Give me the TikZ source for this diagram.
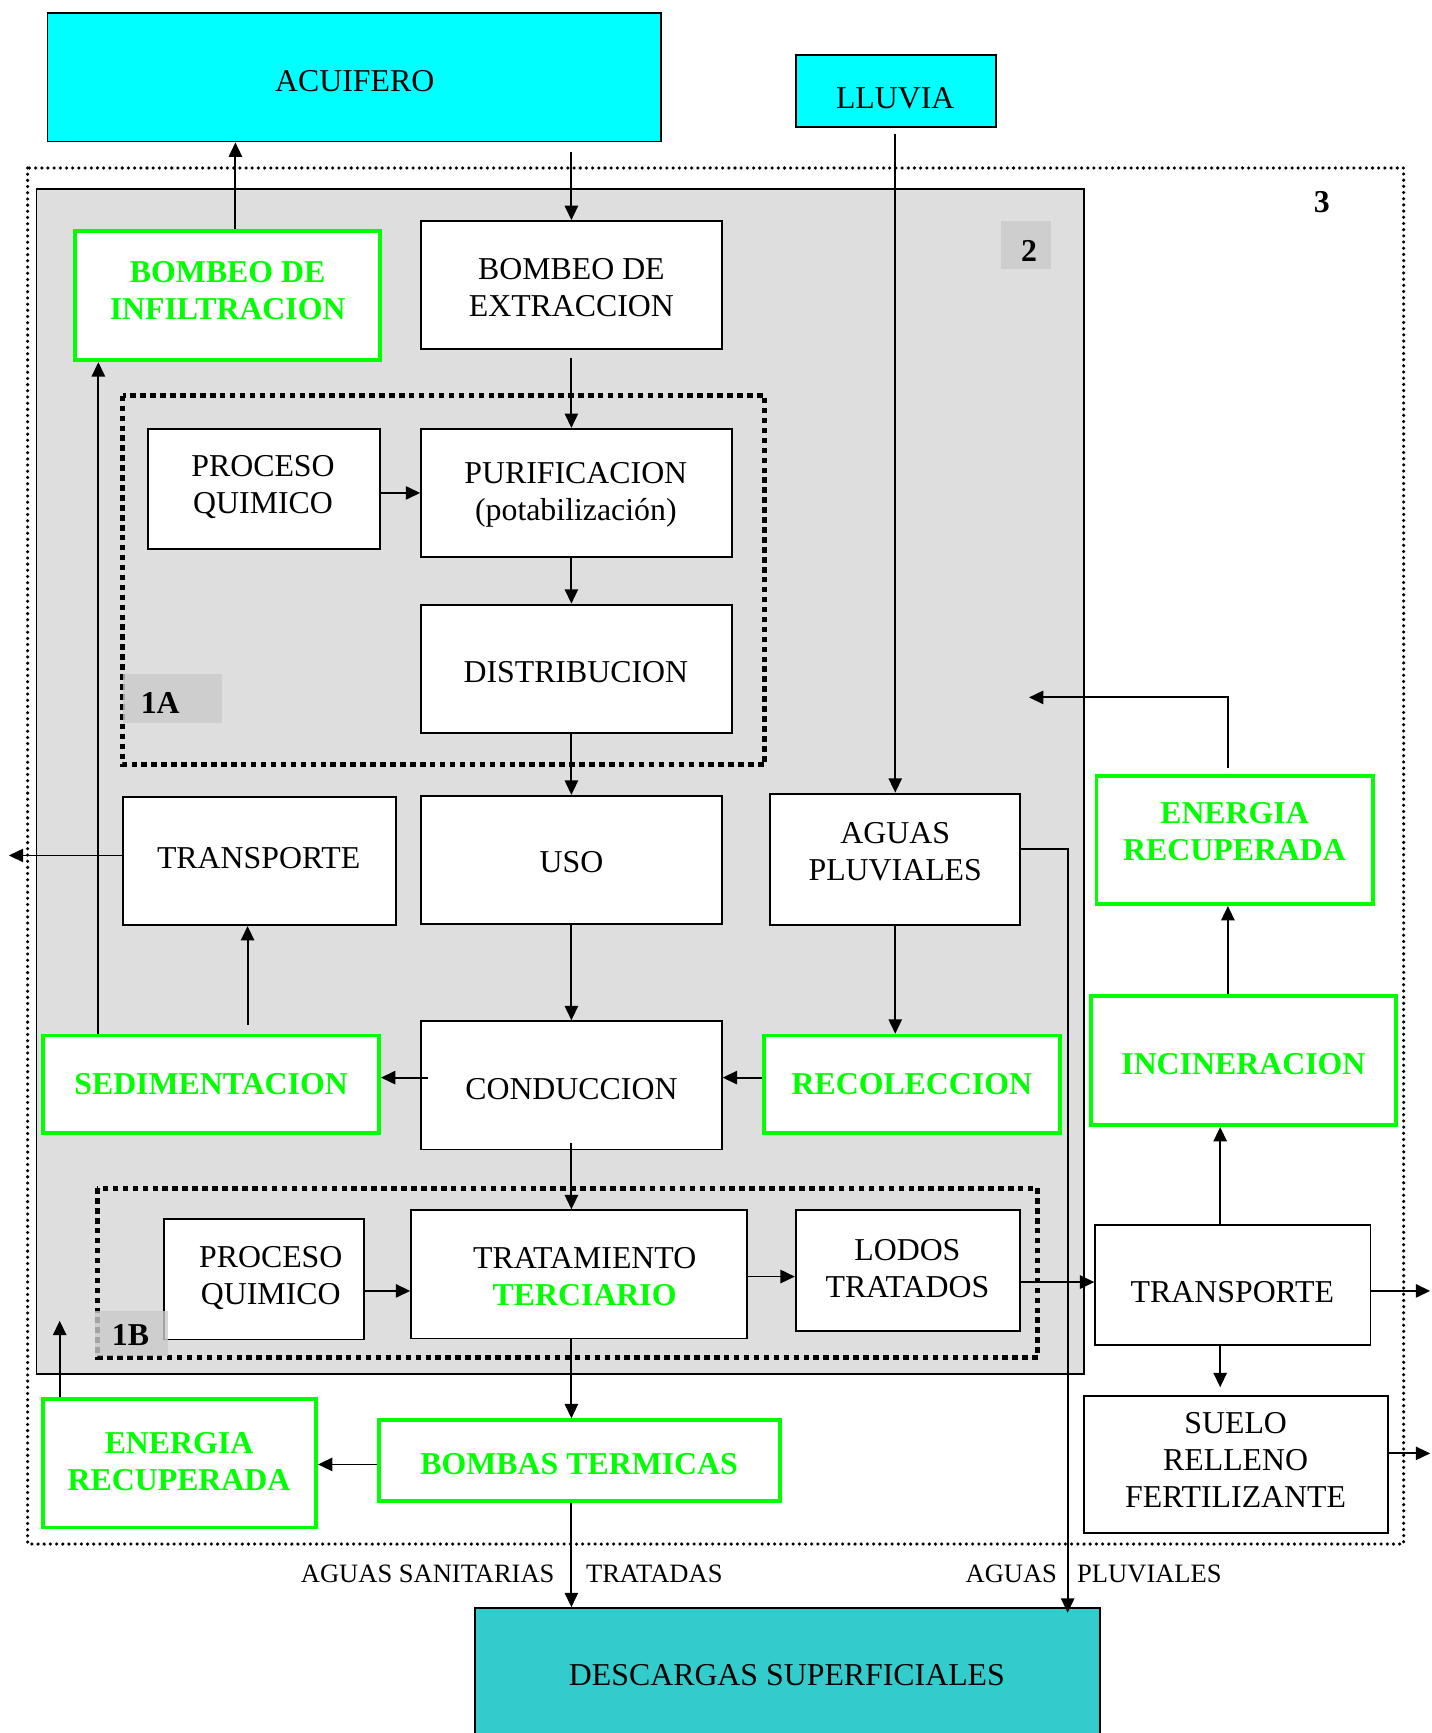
\documentclass[tikz,border=0pt]{standalone}
\usepackage{fontspec}
\setmainfont{Liberation Serif}
\usetikzlibrary{arrows.meta}
\definecolor{cyanbox}{HTML}{00FFFF}
\definecolor{tealbox}{HTML}{33CCCC}
\definecolor{lime}{HTML}{00FF00}
\definecolor{regiongray}{HTML}{DEDEDE}
\definecolor{labelgray}{HTML}{CBCBCB}
\tikzset{
  box/.style={draw=black, line width=1.7pt, fill=white, rectangle, inner sep=0pt},
  gbox/.style={draw=lime, line width=3.4pt, fill=white, rectangle, inner sep=0pt},
  cbox/.style={box, fill=cyanbox},
  tbox/.style={box, fill=tealbox},
  lbox/.style={fill=labelgray, fill opacity=0.8, rectangle, inner sep=0pt},
  txt/.style={align=center, inner sep=0pt, font=\fontsize{28.8pt}{33.5pt}\selectfont},
  gtxt/.style={align=center, inner sep=0pt, text=lime, font=\fontsize{28.8pt}{33.5pt}\selectfont\bfseries},
  lab/.style={inner sep=0pt, font=\fontsize{28.8pt}{33.5pt}\selectfont\bfseries},
  box-t/.style={txt}, cbox-t/.style={txt}, tbox-t/.style={txt},
  gbox-t/.style={gtxt}, lbox-t/.style={lab},
  small/.style={inner sep=0pt, font=\fontsize{24pt}{28pt}\selectfont},
  arr/.style={line width=1.7pt, -{Triangle[length=13pt,width=12pt]}},
  ln/.style={line width=1.7pt},
  frame3/.style={line width=3.2pt, dash pattern=on 0pt off 5.6pt, line cap=round},
  frame1/.style={line width=4.5pt, dash pattern=on 5pt off 4pt},
}
% name, style, x1, y1, x2, y2, text x, text y, text
\newcommand\mybox[9]{%
  \node[#2, minimum width={(#5)-(#3)}, minimum height={(#6)-(#4)}] (#1)
     at ({((#3)+(#5))/2},{((#4)+(#6))/2}) {};
  \node[#2-t] (#1-t) at (#7,#8) {#9};}
\begin{document}
\begin{tikzpicture}[x=1pt,y=-1pt]
\clip (0,0) rectangle (1295,1568);
\fill[white] (0,0) rectangle (1295,1568);

% region 3 (dotted) and region 2 (gray)
\draw[frame3] (25,152) rectangle (1270,1397);
\node[lab] (lab3) at (1196,183) {3};
\draw[line width=1.7pt, fill=regiongray] (33,171) rectangle (981,1243);
\mybox{lab2}{lbox}{906}{200}{951}{243}{931}{227}{2}

% region 1A and 1B frames
\draw[frame1] (111,358) rectangle (692,692);
\draw[frame1] (88,1075) rectangle (939,1228);

% boxes
\mybox{acuif}{cbox}{43}{12}{598}{128}{321}{73}{ACUIFERO}
\mybox{lluvia}{cbox}{720}{50}{901}{115}{810}{89}{LLUVIA}
\mybox{infil}{gbox}{68}{209}{344}{326}{206}{263}{BOMBEO DE\\INFILTRACION}
\mybox{extrac}{box}{381}{200}{653}{316}{517}{260}{BOMBEO DE\\EXTRACCION}
\mybox{pq1}{box}{134}{388}{344}{497}{238}{441}{PROCESO\\QUIMICO}
\mybox{purif}{box}{381}{388}{662}{504}{521}{448}{PURIFICACION\\(potabilización)}
\mybox{distrib}{box}{381}{547}{662}{663}{521}{608}{DISTRIBUCION}
\mybox{lab1a}{lbox}{111}{610}{201}{654}{145}{636}{1A}
\mybox{transpL}{box}{111}{721}{358}{837}{234}{776}{TRANSPORTE}
\mybox{uso}{box}{381}{720}{653}{836}{517}{780}{USO}
\mybox{aguasp}{box}{697}{718}{923}{837}{810}{771}{AGUAS\\PLUVIALES}
\mybox{sedim}{gbox}{39}{937}{343}{1025}{191}{981}{SEDIMENTACION}
\mybox{conduc}{box}{381}{924}{653}{1040}{517}{985}{CONDUCCION}
\mybox{recol}{gbox}{691}{937}{959}{1025}{825}{981}{RECOLECCION}
\mybox{energR}{gbox}{992}{702}{1242}{818}{1117}{752}{ENERGIA\\RECUPERADA}
\mybox{incin}{gbox}{987}{901}{1263}{1018}{1125}{963}{INCINERACION}
\mybox{pq2}{box}{148}{1103}{329}{1212}{245}{1156}{PROCESO\\QUIMICO}
\mybox{tratam}{box}{372}{1095}{676}{1211}{529}{1155}{TRATAMIENTO\\\textbf{\textcolor{lime}{TERCIARIO}}}
\mybox{lodos}{box}{720}{1095}{923}{1204}{821}{1148}{LODOS\\TRATADOS}
\mybox{lab1b}{lbox}{86}{1186}{152}{1227}{118}{1208}{1B}
\mybox{transpR}{box}{991}{1108}{1240}{1217}{1115}{1169}{TRANSPORTE}
\mybox{suelo}{box}{981}{1263}{1256}{1387}{1118}{1321}{SUELO\\RELLENO\\FERTILIZANTE}
\mybox{energL}{gbox}{39}{1266}{286}{1382}{162}{1322}{ENERGIA\\RECUPERADA}
\mybox{bombas}{gbox}{343}{1285}{706}{1358}{524}{1325}{BOMBAS TERMICAS}
\mybox{descar}{tbox}{430}{1455}{995}{1600}{712}{1516}{DESCARGAS SUPERFICIALES}

% text labels at the bottom
\node[small] (lsan) at (387,1424) {AGUAS SANITARIAS};
\node[small] (ltra) at (592,1424) {TRATADAS};
\node[small] (lagu) at (915,1424) {AGUAS};
\node[small] (lplu) at (1040,1424) {PLUVIALES};

% helper coordinates
\coordinate (x213) at (213,0);
\coordinate (x517) at (517,0);
\coordinate (x810) at (810,0);
\coordinate (x224) at (224,0);
\coordinate (x89) at (89,0);
\coordinate (x1104) at (1104,0);
\coordinate (x1111) at (1111,0);
\coordinate (x966) at (966,0);
\coordinate (x54) at (54,0);
\coordinate (y446) at (0,446);
\coordinate (y975) at (0,975);
\coordinate (y774) at (0,774);
\coordinate (y1168) at (0,1168);
\coordinate (y1155) at (0,1155);
\coordinate (y1160) at (0,1160);
\coordinate (y1315) at (0,1315);
\coordinate (y1325) at (0,1325);
\coordinate (y768) at (0,768);
\coordinate (outL) at (8,774);
\coordinate (outE) at (931,631);
\coordinate (outR1) at (1294,1168);
\coordinate (outR2) at (1294,1315);
\coordinate (outEL) at (54,1195);

% connectors
\draw[arr] (infil.north -| x213) -- (acuif.south -| x213);
\draw[arr, shorten <=9pt] (acuif.south -| x517) -- (extrac.north -| x517);
\draw[arr, shorten <=5pt] (lluvia.south -| x810) -- (aguasp.north -| x810);
\draw[arr, shorten <=7pt] (extrac.south -| x517) -- (purif.north -| x517);
\draw[arr] (pq1.east |- y446) -- (purif.west |- y446);
\draw[arr] (purif.south -| x517) -- (distrib.north -| x517);
\draw[arr] (distrib.south -| x517) -- (uso.north -| x517);
\draw[arr] (uso.south -| x517) -- (conduc.north -| x517);
\draw[arr] (aguasp.south -| x810) -- (recol.north -| x810);
\draw[arr] (recol.west |- y975) -- (conduc.east |- y975);
\draw[arr, shorten <=-7pt] (conduc.west |- y975) -- (sedim.east |- y975);
\draw[arr, shorten <=8pt] (sedim.north -| x224) -- (transpL.south -| x224);
\draw[arr] (sedim.north -| x89) -- (infil.south -| x89);
\draw[arr] (transpL.west |- y774) -- (outL);
\draw[arr, shorten <=-7pt] (conduc.south -| x517) -- (tratam.north -| x517);
\draw[arr] (pq2.east |- y1168) -- (tratam.west |- y1168);
\draw[arr] (tratam.east |- y1155) -- (lodos.west |- y1155);
\draw[arr] (lodos.east |- y1160) -- (transpR.west |- y1160);
\draw[arr] (transpR.north -| x1104) -- (incin.south -| x1104);
\draw[arr] (incin.north -| x1111) -- (energR.south -| x1111);
\draw[arr, shorten <=5pt] (energR.north -| x1111) -- (x1111 |- outE) -- (outE);
\draw[arr, shorten >=7pt] (transpR.south -| x1104) -- (suelo.north -| x1104);
\draw[arr] (transpR.east |- y1168) -- (outR1);
\draw[arr] (suelo.east |- y1315) -- (outR2);
\draw[arr] (tratam.south -| x517) -- (bombas.north -| x517);
\draw[arr] (bombas.west |- y1325) -- (energL.east |- y1325);
\draw[arr] (energL.north -| x54) -- (outEL);
\draw[arr] (bombas.south -| x517) -- (descar.north -| x517);
\draw[arr, shorten >=-5pt] (aguasp.east |- y768) -- (x966 |- y768) -- (descar.north -| x966);
\end{tikzpicture}
\end{document}
